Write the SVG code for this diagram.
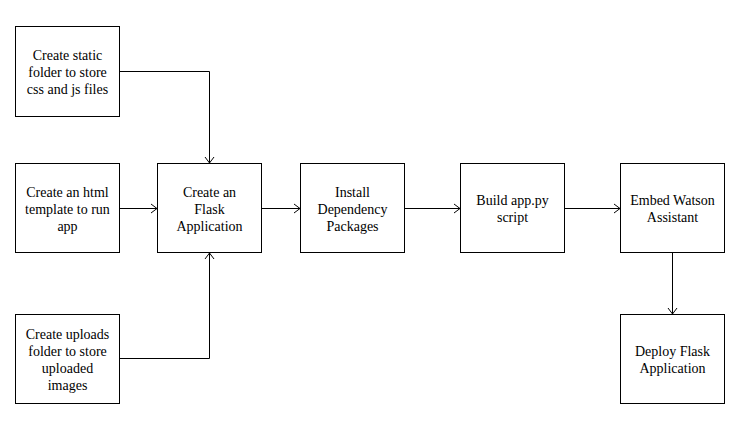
<svg xmlns="http://www.w3.org/2000/svg" width="746" height="430" viewBox="0 0 746 430">
<style>
.box{fill:#fff;stroke:#000;stroke-width:1}
.t{font-family:"Times New Roman",Times,Tinos,"Liberation Serif","Noto Serif","DejaVu Serif",FreeSerif,serif;font-size:14px;fill:#000;text-anchor:middle}
.c{fill:none;stroke:#000;stroke-width:1}
</style>
<defs>
<marker id="arr" markerUnits="userSpaceOnUse" markerWidth="14" markerHeight="14" viewBox="-8 -7 10 14" refX="0" refY="0" orient="auto">
<path d="M-6,-4.5 L0,0 L-6,4.5" fill="none" stroke="#000" stroke-width="1"/>
</marker>
</defs>
<rect width="746" height="430" fill="#fff"/>
<g id="connectors">
<path class="c" d="M119.5,71.5 H209.5 V163" marker-end="url(#arr)"/>
<path class="c" d="M119.5,208.5 H157" marker-end="url(#arr)"/>
<path class="c" d="M119.5,358.5 H209.5 V253" marker-end="url(#arr)"/>
<path class="c" d="M261.5,208.5 H300" marker-end="url(#arr)"/>
<path class="c" d="M404.5,208.5 H460" marker-end="url(#arr)"/>
<path class="c" d="M564.5,208.5 H620" marker-end="url(#arr)"/>
<path class="c" d="M672.5,252.5 V314" marker-end="url(#arr)"/>
</g>
<g id="static">
<rect class="box" x="15.5" y="26.5" width="104" height="90"/>
<text class="t" x="67.5" y="59.5">Create static</text>
<text class="t" x="67.5" y="76.5">folder to store</text>
<text class="t" x="67.5" y="93.5">css and js files</text>
</g>
<g id="html">
<rect class="box" x="15.5" y="163.5" width="104" height="89"/>
<text class="t" x="67.5" y="197">Create an html</text>
<text class="t" x="67.5" y="214">template to run</text>
<text class="t" x="67.5" y="231">app</text>
</g>
<g id="uploads">
<rect class="box" x="15.5" y="314.5" width="104" height="89"/>
<text class="t" x="67.5" y="338.5">Create uploads</text>
<text class="t" x="67.5" y="355.5">folder to store</text>
<text class="t" x="67.5" y="372.5">uploaded</text>
<text class="t" x="67.5" y="389.5">images</text>
</g>
<g id="flask">
<rect class="box" x="157.5" y="163.5" width="104" height="89"/>
<text class="t" x="209.5" y="197">Create an</text>
<text class="t" x="209.5" y="214">Flask</text>
<text class="t" x="209.5" y="231">Application</text>
</g>
<g id="install">
<rect class="box" x="300.5" y="163.5" width="104" height="89"/>
<text class="t" x="352.5" y="197">Install</text>
<text class="t" x="352.5" y="214">Dependency</text>
<text class="t" x="352.5" y="231">Packages</text>
</g>
<g id="build">
<rect class="box" x="460.5" y="163.5" width="104" height="89"/>
<text class="t" x="512.5" y="205">Build app.py</text>
<text class="t" x="512.5" y="222">script</text>
</g>
<g id="embed">
<rect class="box" x="620.5" y="163.5" width="104" height="89"/>
<text class="t" x="672.5" y="205">Embed Watson</text>
<text class="t" x="672.5" y="222">Assistant</text>
</g>
<g id="deploy">
<rect class="box" x="620.5" y="314.5" width="104" height="89"/>
<text class="t" x="672.5" y="356">Deploy Flask</text>
<text class="t" x="672.5" y="373">Application</text>
</g>
</svg>
